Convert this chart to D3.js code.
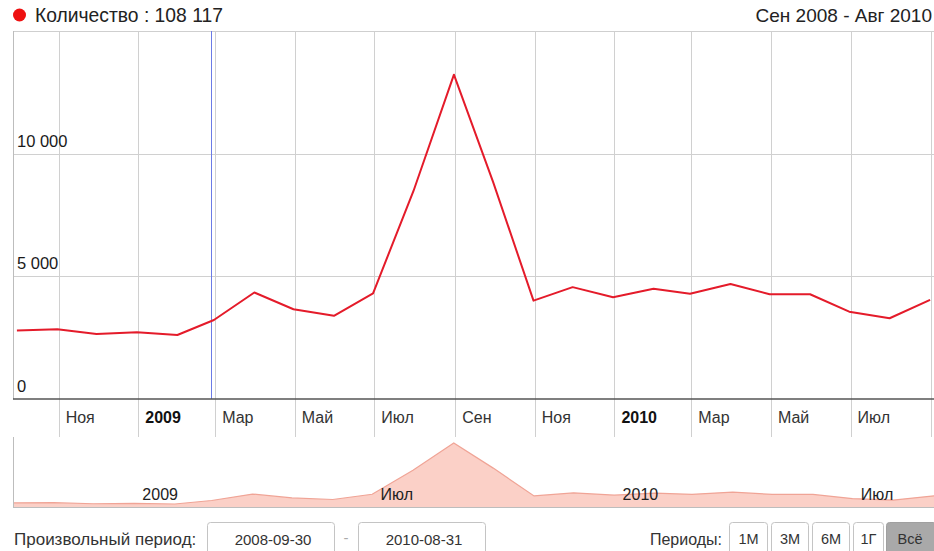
<!DOCTYPE html>
<html>
<head>
<meta charset="utf-8">
<script src="https://cdnjs.cloudflare.com/ajax/libs/d3/7.8.5/d3.min.js"></script>
<style>
  body { margin: 0; background: #fff; }
  svg { display: block; font-family: "Liberation Sans", Arial, sans-serif; }
</style>
</head>
<body>
<div id="chart"></div>
<script>
// monthly totals, one point per month end
var months = ["2008-09-30", "2008-10-31", "2008-11-30", "2008-12-31", "2009-01-31", "2009-02-28",
  "2009-03-31", "2009-04-30", "2009-05-31", "2009-06-30", "2009-07-31", "2009-08-31",
  "2009-09-30", "2009-10-31", "2009-11-30", "2009-12-31", "2010-01-31", "2010-02-28",
  "2010-03-31", "2010-04-30", "2010-05-31", "2010-06-30", "2010-07-31", "2010-08-31"];
var counts = [2790, 2840, 2650, 2720, 2610, 3220,
  4340, 3660, 3390, 4310, 8480, 13220,
  8850, 4010, 4560, 4150, 4490, 4290,
  4690, 4270, 4270, 3560, 3290, 4040];
var yTicks = [0, 5000, 10000];
var monthNames = ["Янв", "Фев", "Мар", "Апр", "Май", "Июн", "Июл", "Авг", "Сен", "Окт", "Ноя", "Дек"];
var seriesName = "Количество";
var totalLabel = "108 117";
var rangeLabel = "Сен 2008 - Авг 2010";
var dateFrom = "2008-09-30";
var dateTo = "2010-08-31";
var periods = ["1М", "3М", "6М", "1Г", "Всё"];
var markerIndex = 5;

var W = 934, H = 551;
var plot = { left: 13, right: 934, top: 31, bottom: 399, gridBottom: 437 };
var over = { top: 437, bottom: 507 };

var parse = d3.utcParse("%Y-%m-%d");
var data = months.map(function(m, i) { return { date: parse(m), value: counts[i] }; });

var svg = d3.select("#chart").append("svg")
  .attr("width", W)
  .attr("height", H);

//////////////////////////////////////////////////////////////////////////////

var x = d3.scaleUtc()
  .domain([Date.UTC(2008, 8, 27), Date.UTC(2010, 8, 3)])
  .range([plot.left, plot.right]);

var y = d3.scaleLinear()
  .domain([0, 15000])
  .range([plot.bottom, plot.top]);

var fmt = function(v) { return d3.format(",")(v).replace(/,/g, " "); };
var tickName = function(d) {
  return d.getUTCMonth() === 0 ? d.getUTCFullYear() : monthNames[d.getUTCMonth()];
};

// header
svg.append("circle").attr("cx", 19.5).attr("cy", 15).attr("r", 6.5).attr("fill", "#ee1111");
svg.append("text").attr("x", 35).attr("y", 22)
  .attr("font-size", 19.3).attr("fill", "#222")
  .text(seriesName + " : " + totalLabel);
svg.append("text").attr("x", 932).attr("y", 22)
  .attr("font-size", 19).attr("fill", "#222").attr("text-anchor", "end")
  .text(rangeLabel);

// grid
var xTicks = d3.utcMonth.every(2).range(x.domain()[0], x.domain()[1]);

svg.append("g").selectAll("line")
  .data(xTicks)
  .enter().append("line")
  .attr("x1", function(d) { return Math.round(x(d)) + 0.5; })
  .attr("x2", function(d) { return Math.round(x(d)) + 0.5; })
  .attr("y1", plot.top)
  .attr("y2", plot.gridBottom)
  .attr("stroke", "#d0d0d0");

svg.append("g").selectAll("line")
  .data(yTicks.slice(1))
  .enter().append("line")
  .attr("x1", plot.left)
  .attr("x2", plot.right)
  .attr("y1", function(d) { return Math.round(y(d)) + 0.5; })
  .attr("y2", function(d) { return Math.round(y(d)) + 0.5; })
  .attr("stroke", "#d0d0d0");

svg.append("line").attr("x1", plot.left).attr("x2", plot.right)
  .attr("y1", plot.top + 0.5).attr("y2", plot.top + 0.5).attr("stroke", "#cfcfcf");
svg.append("line").attr("x1", plot.left + 0.5).attr("x2", plot.left + 0.5)
  .attr("y1", plot.top).attr("y2", plot.bottom).attr("stroke", "#bdbdbd");

// y labels
svg.append("g").selectAll("text")
  .data(yTicks)
  .enter().append("text")
  .attr("x", 17)
  .attr("y", function(d) { return y(d) - 7; })
  .attr("font-size", 16.5)
  .attr("fill", "#1a1a1a")
  .text(fmt);

// marker
svg.append("line")
  .attr("x1", Math.round(x(data[markerIndex].date)) - 2.5)
  .attr("x2", Math.round(x(data[markerIndex].date)) - 2.5)
  .attr("y1", plot.top).attr("y2", plot.bottom)
  .attr("stroke", "#6b7be6").attr("stroke-width", 1);

// line
var line = d3.line()
  .x(function(d) { return x(d.date); })
  .y(function(d) { return y(d.value); });

svg.append("path")
  .datum(data)
  .attr("d", line)
  .attr("fill", "none")
  .attr("stroke", "#e41b2a")
  .attr("stroke-width", 2)
  .attr("stroke-linejoin", "round");

// x axis
svg.append("line").attr("x1", plot.left).attr("x2", plot.right)
  .attr("y1", plot.bottom).attr("y2", plot.bottom)
  .attr("stroke", "#555").attr("stroke-width", 1.5);

svg.append("g").selectAll("text")
  .data(xTicks.filter(function(d) { return x(d) + 40 < W; }))
  .enter().append("text")
  .attr("x", function(d) { return x(d) + 7; })
  .attr("y", 423)
  .attr("font-size", 16)
  .attr("font-weight", function(d) { return d.getUTCMonth() === 0 ? "bold" : "normal"; })
  .attr("fill", function(d) { return d.getUTCMonth() === 0 ? "#111" : "#333"; })
  .text(tickName);

//////////////////////////////////////////////////////////////////////////////
// overview strip

var xo = d3.scaleUtc()
  .domain(d3.extent(data, function(d) { return d.date; }))
  .range([plot.left, plot.right]);

var yo = d3.scaleLinear()
  .domain(d3.extent(data, function(d) { return d.value; }))
  .range([over.bottom - 3, over.top + 6]);

var area = d3.area()
  .x(function(d) { return xo(d.date); })
  .y0(over.bottom)
  .y1(function(d) { return yo(d.value); });

svg.append("path")
  .datum(data)
  .attr("d", area)
  .attr("fill", "#fbd0c7");

svg.append("path")
  .datum(data)
  .attr("d", line.x(function(d) { return xo(d.date); }).y(function(d) { return yo(d.value); }))
  .attr("fill", "none")
  .attr("stroke", "#f0a496")
  .attr("stroke-width", 1.2);

svg.append("line").attr("x1", plot.left + 0.5).attr("x2", plot.left + 0.5)
  .attr("y1", over.top).attr("y2", over.bottom).attr("stroke", "#bdbdbd");
svg.append("line").attr("x1", plot.left).attr("x2", plot.right)
  .attr("y1", over.bottom + 0.5).attr("y2", over.bottom + 0.5).attr("stroke", "#bdbdbd");

var overTicks = d3.utcMonth.every(6).range(xo.domain()[0], xo.domain()[1]);
svg.append("g").selectAll("text")
  .data(overTicks)
  .enter().append("text")
  .attr("x", function(d) { return xo(d) + 7; })
  .attr("y", 500)
  .attr("font-size", 16)
  .attr("fill", "#222")
  .text(tickName);

//////////////////////////////////////////////////////////////////////////////
// controls

svg.append("text").attr("x", 14).attr("y", 545)
  .attr("font-size", 17).attr("fill", "#333")
  .text("Произвольный период:");

[[207, dateFrom], [358, dateTo]].forEach(function(b) {
  svg.append("rect").attr("x", b[0] + 0.5).attr("y", 522.5)
    .attr("width", 127).attr("height", 40).attr("rx", 3)
    .attr("fill", "#fff").attr("stroke", "#c4c4c4");
  svg.append("text").attr("x", b[0] + 66).attr("y", 545)
    .attr("font-size", 15).attr("fill", "#333").attr("text-anchor", "middle")
    .text(b[1]);
});
svg.append("text").attr("x", 346).attr("y", 543)
  .attr("font-size", 15).attr("fill", "#aaa").attr("text-anchor", "middle").text("-");

svg.append("text").attr("x", 722).attr("y", 545)
  .attr("font-size", 16).attr("fill", "#333").attr("text-anchor", "end")
  .text("Периоды:");

var btnX = [729, 771, 812, 853, 886];
var btnW = [38, 37, 37, 30, 50];
periods.forEach(function(p, i) {
  var last = i === periods.length - 1;
  svg.append("rect").attr("x", btnX[i] + 0.5).attr("y", 522.5)
    .attr("width", btnW[i]).attr("height", 40).attr("rx", 3)
    .attr("fill", last ? "#a9a9a9" : "#fff").attr("stroke", last ? "#a0a0a0" : "#c4c4c4");
  svg.append("text").attr("x", last ? btnX[i] + 24 : btnX[i] + btnW[i] / 2 + 0.5).attr("y", 544)
    .attr("font-size", 14.5).attr("fill", "#333").attr("text-anchor", "middle")
    .text(p);
});
</script>
</body>
</html>
